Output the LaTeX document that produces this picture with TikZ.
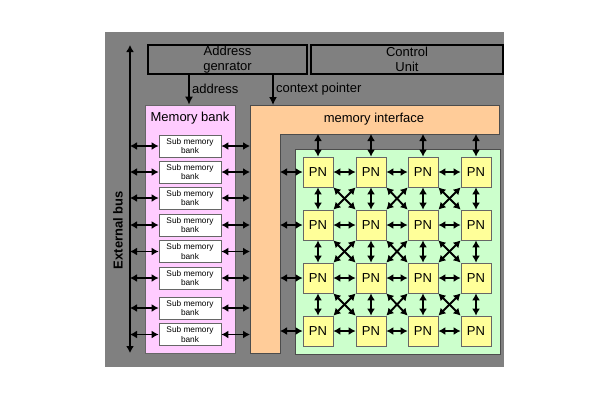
\documentclass[tikz,border=0pt]{standalone}
\usepackage{fontspec}
\setmainfont{Liberation Sans}
\usetikzlibrary{arrows.meta}

\definecolor{bggray}{RGB}{128,128,128}
\definecolor{bankpink}{RGB}{255,204,255}
\definecolor{ifaceorange}{RGB}{255,204,153}
\definecolor{arraygreen}{RGB}{204,255,204}
\definecolor{pnyellow}{RGB}{255,255,153}

\tikzset{every picture/.style={line width=0.75pt}}
\tikzset{
  lbl/.style={inner sep=0.75pt, font=\fontsize{13}{14}\selectfont},
  unitbox/.style={draw, line width=1.8pt, minimum height=29, align=center, inner sep=0pt, font=\fontsize{13}{14.5}\selectfont},
  subbank/.style={draw=black!60, fill=white, minimum width=62, minimum height=22, align=center, inner sep=0pt, font=\fontsize{8.3}{9.8}\selectfont},
  pn/.style={draw=black!60, fill=pnyellow, minimum width=30, minimum height=30, inner sep=0pt, font=\fontsize{13}{14}\selectfont},
  link/.style={{Latex[length=7pt,width=8pt]}-{Latex[length=7pt,width=8pt]}, line width=1.9pt},
  feed/.style={-{Latex[length=8pt,width=8pt]}, line width=1.4pt}
}

\begin{document}
\begin{tikzpicture}[x=1pt,y=1pt,yscale=-1,xscale=1]
	\useasboundingbox (0,0) rectangle (610,400);
	\fill[white] (0,0) rectangle (610,400);

	%Shape: Rectangle [background]
	\fill[bggray] (105,32) rectangle (504,367);

	%Shape: Rectangle [units]
	\node[unitbox, minimum width=159] (addr) at (227.5,59.5) {Address\\genrator};
	\node[unitbox, minimum width=192] (ctrl) at (407,59.5) {Control\\Unit};

	%Shape: Rectangle [memory bank]
	\node[draw=black!60, fill=bankpink, minimum width=90, minimum height=248] (bank) at (190,229) {};
	\node[lbl] (banklbl) at (190,118) {Memory bank};

	%Shape: L-shape [memory interface]
	\draw[draw=black!70, fill=ifaceorange] (250,105) -- (499,105) -- (499,134) -- (280,134) -- (280,353) -- (250,353) -- cycle;
	\node[lbl] (iface) at (374,119) {memory interface};
	\coordinate (ifT) at (0,105);
	\coordinate (ifB) at (0,134);
	\coordinate (ifL) at (250,0);
	\coordinate (ifR) at (280,0);

	%Shape: Rectangle [PN array]
	\draw[draw=black!70, fill=arraygreen] (295,149) rectangle (500,354);

	%External bus
	\coordinate (busTop) at (130,45);
	\coordinate (busBot) at (130,353);
	\draw[link] (busTop) -- (busBot);
	\node[lbl, rotate=90, font=\fontsize{13}{14}\selectfont\bfseries] (buslbl) at (118,230) {External bus};

	%Sub memory banks
	\foreach \i/\y in {1/146,2/172,3/198,4/225,5/251.5,6/278,7/308,8/334.5} {
		\node[subbank] (s\i) at (190,\y) {Sub memory\\bank};
		\draw[link] (s\i.west -| busTop) -- (s\i.west);
		\draw[link] (s\i.east) -- (s\i.east -| ifL);
	}

	%Address and context pointer
	\coordinate (adrx) at (189,0);
	\coordinate (ctxx) at (273,0);
	\draw[feed] (addr.south -| adrx) -- (bank.north -| adrx);
	\draw[feed] (addr.south -| ctxx) -- (ifT -| ctxx);
	\node[lbl, anchor=west] (adrlbl) at (191,89) {address};
	\node[lbl, anchor=west] (ctxlbl) at (275,89) {context pointer};

	%PN nodes
	\foreach \c/\x in {1/318,2/371,3/423,4/476} {
		\foreach \r/\y in {1/172,2/225,3/278,4/331} {
			\node[pn] (p\r\c) at (\x,\y) {PN};
		}
	}

	%Interface links
	\foreach \k in {1,2,3,4} {
		\draw[link] (p1\k.north |- ifB) -- (p1\k.north);
		\draw[link] (p\k1.west -| ifR) -- (p\k1.west);
	}

	%Neighbour links
	\foreach \a/\b in {1/2,2/3,3/4} {
		\foreach \k in {1,2,3,4} {
			\draw[link] (p\k\a.east) -- (p\k\b.west);
			\draw[link] (p\a\k.south) -- (p\b\k.north);
		}
		\foreach \c/\n in {1/2,2/3,3/4} {
			\draw[link] (p\a\c.south east) -- (p\b\n.north west);
			\draw[link] (p\a\n.south west) -- (p\b\c.north east);
		}
	}

\end{tikzpicture}
\end{document}
